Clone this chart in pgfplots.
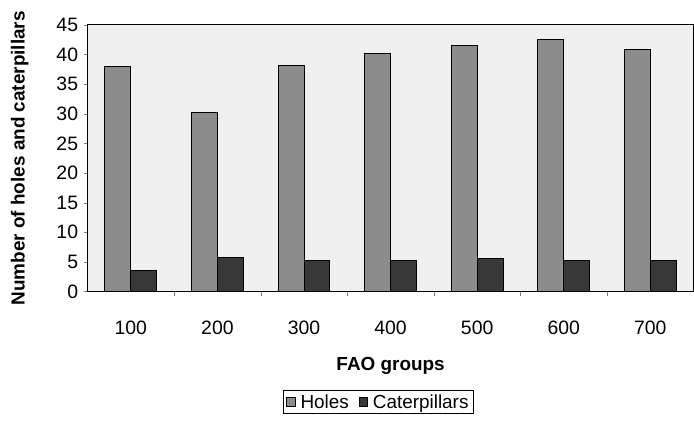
\documentclass[border=0pt]{standalone}
\usepackage{fontspec}
\setmainfont{Liberation Sans}
\usepackage{pgfplots}
\pgfplotsset{compat=1.18}
\begin{document}
\begin{tikzpicture}
\begin{axis}[
  name=ax,
  scale only axis,
  width=609pt, height=268pt,
  ybar=0pt, bar width=26pt,
  xmin=0.5, xmax=7.5,
  ymin=0, ymax=45,
  ytick={0,5,...,45},
  xtick={1,...,7},
  xticklabels={100,200,300,400,500,600,700},
  minor xtick={1.5,2.5,...,6.5},
  major x tick style={draw=none},
  minor tick length=4pt,
  major tick length=4pt,
  tick align=outside,
  xtick pos=bottom, ytick pos=left,
  /pgf/number format/assume math mode=true,
  tick label style={font=\fontsize{19.5}{22}\selectfont},
  xticklabel style={yshift=-22pt},
  yticklabel style={xshift=-2pt},
  axis background/.style={fill=black!6},
  axis line style={black, line width=0.8pt},
  xlabel={\textbf{FAO groups}},
  ylabel={\textbf{Number of holes and caterpillars}},
  label style={font=\fontsize{19}{22}\selectfont},
  xlabel style={at={(axis description cs:0.5,-0.28)}, anchor=center},
  ylabel style={at={(axis description cs:-0.112,0.5)}, anchor=center},
  legend columns=2,
  legend style={at={(axis description cs:0.48,-0.415)}, anchor=center,
    draw=black, line width=0.8pt, font=\fontsize{19}{22}\selectfont,
    inner xsep=3pt, inner ysep=2pt,
    /tikz/every odd column/.append style={column sep=3pt},
    /tikz/every even column/.append style={column sep=8pt}},
  legend image code/.code={\draw[#1, line width=0.6pt] (0cm,-0.14cm) rectangle (0.3cm,0.16cm);},
]
\addplot[fill=black!45, draw=black, line width=1pt] coordinates {
  (1,38.0) (2,30.3) (3,38.1) (4,40.2) (5,41.5) (6,42.6) (7,40.8)};
\addplot[fill=black!78, draw=black, line width=1pt] coordinates {
  (1,3.6) (2,5.7) (3,5.3) (4,5.2) (5,5.6) (6,5.3) (7,5.3)};
\legend{Holes, Caterpillars}
\end{axis}
\path ([xshift=-88pt,yshift=-133pt]ax.south west) rectangle ([yshift=25pt]ax.north east);
\end{tikzpicture}
\end{document}
